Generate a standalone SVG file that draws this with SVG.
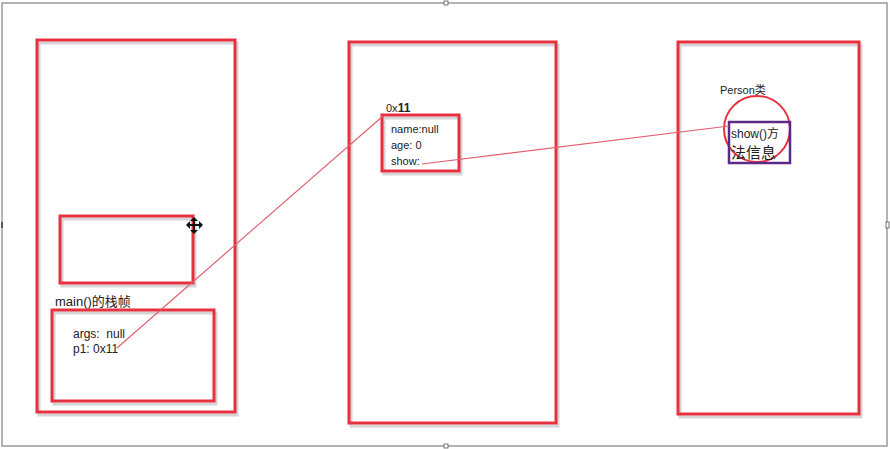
<svg xmlns="http://www.w3.org/2000/svg" width="890" height="449" viewBox="0 0 890 449">
<defs>
<style>
.box{fill:none;stroke:#e8313f;stroke-width:3}
.shadow{fill:none;stroke:#b9b9bf;stroke-width:3;opacity:0.6}
.t{font-family:"Liberation Sans","Noto Sans CJK SC",sans-serif;fill:#222}
.c{fill:none;stroke:#e0606e;stroke-width:1.2}
</style>
</defs>
<rect x="0" y="0" width="890" height="449" fill="#ffffff"/>
<rect x="2" y="3" width="885" height="443" fill="none" stroke="#9a9a9a" stroke-width="1.5"/>
<rect x="444" y="1" width="4" height="4" fill="#fff" stroke="#555" stroke-width="0.8"/>
<rect x="444" y="444" width="4" height="4" fill="#fff" stroke="#555" stroke-width="0.8"/>
<rect x="1" y="222" width="2" height="6" fill="#555"/>
<rect x="886" y="222" width="3" height="6" fill="#fff" stroke="#555" stroke-width="0.8"/>

<g id="stack">
<rect class="shadow" x="39" y="43" width="198" height="372"/>
<rect class="box" x="37" y="40" width="198" height="372"/>
</g>
<g id="frame-top">
<rect class="shadow" x="62" y="219" width="133" height="67"/>
<rect class="box" x="60" y="216" width="133" height="67"/>
</g>
<g id="main-frame">
<text class="t" x="55" y="306" font-size="13">main()的栈帧</text>
<rect class="shadow" x="54" y="313" width="162" height="91"/>
<rect class="box" x="52" y="310" width="162" height="91"/>
<text class="t" x="73" y="338" font-size="12" xml:space="preserve">args:  null</text>
<text class="t" x="73" y="353" font-size="12">p1: 0x11</text>
</g>
<g id="heap">
<rect class="shadow" x="351" y="45" width="207" height="381"/>
<rect class="box" x="349" y="42" width="207" height="381"/>
</g>
<g id="object">
<text class="t" x="386" y="112" font-size="11"><tspan>0x</tspan><tspan font-weight="bold" font-size="12">11</tspan></text>
<rect class="shadow" x="384" y="118" width="77" height="56"/>
<rect class="box" x="382" y="115" width="77" height="56"/>
<text class="t" x="391" y="133" font-size="11">name:null</text>
<text class="t" x="391" y="149" font-size="11">age: 0</text>
<text class="t" x="391" y="165" font-size="11">show:</text>
</g>
<g id="method-area">
<rect class="shadow" x="680" y="45" width="181" height="372"/>
<rect class="box" x="678" y="42" width="181" height="372"/>
</g>
<g id="person-class">
<text class="t" x="720" y="94" font-size="11">Person类</text>
<circle cx="757" cy="129" r="33" fill="none" stroke="#e8313f" stroke-width="2"/>
<rect x="729" y="122" width="61" height="41" fill="none" stroke="#5b2a86" stroke-width="2.5"/>
<text class="t" x="731" y="138" font-size="12">show()方</text>
<text class="t" x="731" y="158" font-size="15">法信息</text>
</g>
<g id="connectors">
<line class="c" x1="117" y1="348" x2="383" y2="116"/>
<line class="c" x1="422" y1="164" x2="729" y2="126"/>
</g>
<g id="cursor" fill="#111">
<rect x="188" y="224" width="13" height="2"/>
<rect x="193" y="219" width="2" height="13"/>
<polygon points="194,217 190,221 198,221"/>
<polygon points="194,234 190,230 198,230"/>
<polygon points="186,225 190,221 190,229"/>
<polygon points="203,225 199,221 199,229"/>
</g>
</svg>
